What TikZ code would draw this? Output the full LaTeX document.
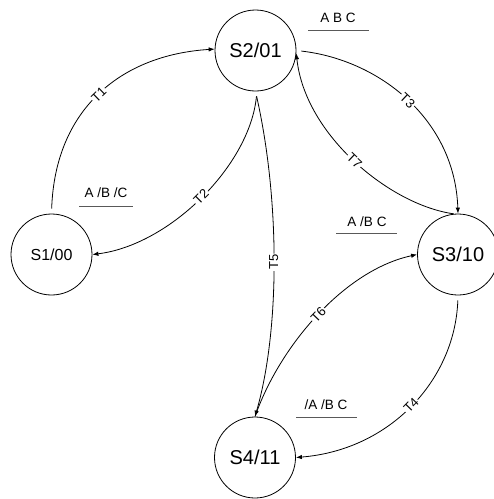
\documentclass[tikz,border=0pt]{standalone}
\usepackage{fontspec}
\setmainfont{Liberation Sans}
\usetikzlibrary{arrows.meta}
\begin{document}
\begin{tikzpicture}[x=1pt,y=-1pt,
  state/.style={draw,circle,minimum size=81pt,inner sep=0pt,line width=0.8pt,font=\fontsize{20}{22}\selectfont},
  trans/.style={line width=0.8pt,-{Latex[length=6pt,width=4.5pt]},shorten <=5pt},
  tlab/.style={sloped,fill=white,inner sep=1pt,font=\fontsize{13}{14}\selectfont},
  cond/.style={font=\fontsize{13.5}{15}\selectfont,inner sep=0pt},
  uline/.style={line width=1pt,draw=black!65}]
\useasboundingbox (0,0) rectangle (494,499);
\node[state,font=\fontsize{16}{18}\selectfont] (S1) at (51.5,254.5) {S1/00};
\node[state] (S2) at (255.5,50.5) {S2/01};
\node[state] (S3) at (458,254.5) {S3/10};
\node[state] (S4) at (255,457.5) {S4/11};
% transitions
\draw[trans] (S1.north) .. controls (55,110) and (120,55) .. (S2.178) node[pos=.5,tlab] {T1};
\draw[trans] (S2.272) .. controls (250,165) and (170,245) .. (S1.east) node[pos=.5,tlab] {T2};
\draw[trans] (S2.east) .. controls (380,60) and (455,120) .. (S3.north) node[pos=.5,tlab] {T3};
\draw[trans,shorten <=0pt] (S3.96) .. controls (390,205) and (305,135) .. (S2.-4) node[pos=.5,tlab] {T7};
\draw[trans] (S2.270) .. controls (280,200) and (280,330) .. (S4.north) node[pos=.5,tlab] {T5};
\draw[trans,shorten <=0pt] (S4.north) .. controls (280,345) and (345,270) .. (S3.west) node[pos=.5,tlab] {T6};
\draw[trans] (S3.south) .. controls (455,380) and (390,450) .. (S4.east) node[pos=.5,tlab] {T4};
% conditions
\node[cond] (c1) at (338,18) {A B C};
\draw[uline] (308,30) -- (369,30);
\node[cond] (c2) at (106,193) {A /B /C};
\draw[uline] (79,206) -- (133,206);
\node[cond] (c3) at (367,222) {A /B C};
\draw[uline] (336,233) -- (397,233);
\node[cond] (c4) at (326,405) {/A /B C};
\draw[uline] (296,417) -- (357,417);
\end{tikzpicture}
\end{document}
